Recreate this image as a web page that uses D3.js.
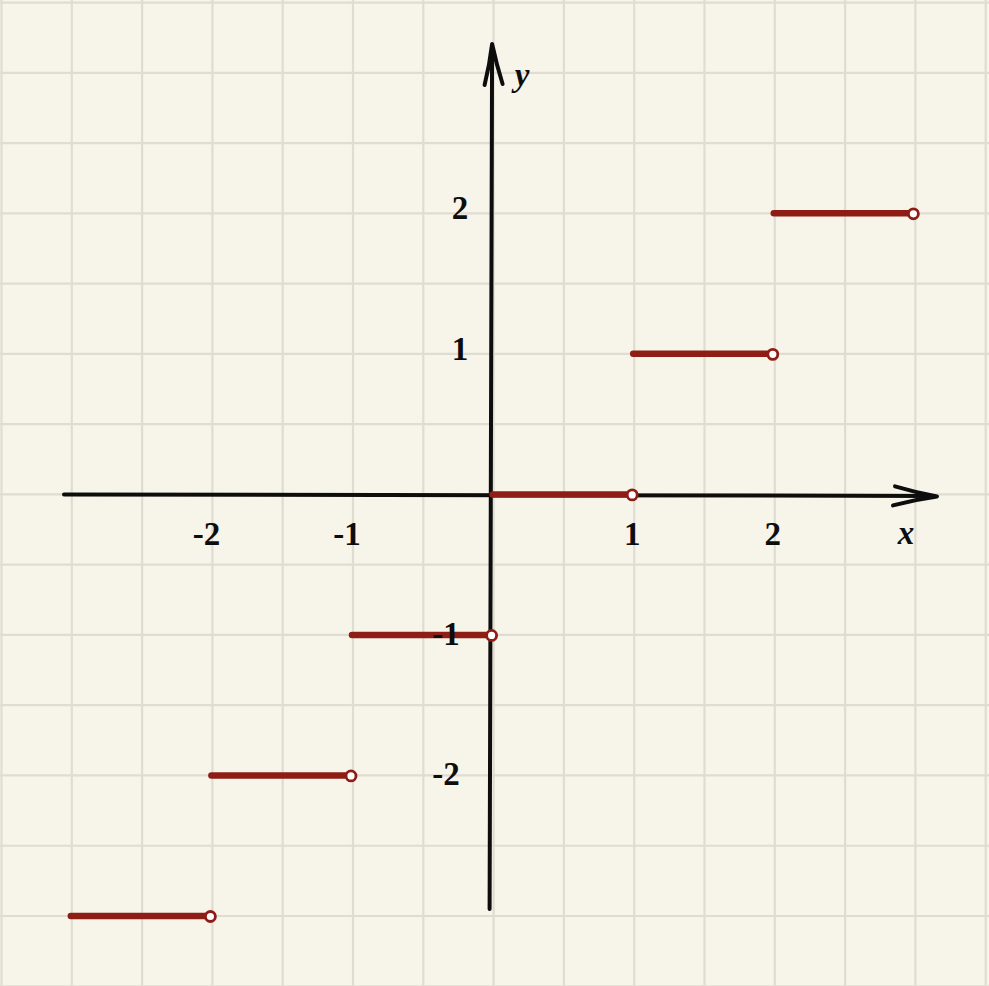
<!DOCTYPE html>
<html><head><meta charset="utf-8">
<script src="https://cdn.jsdelivr.net/npm/d3@7"></script>
<style>html,body{margin:0;padding:0;background:#f7f5ea;}svg{display:block;}</style>
</head><body>
<script>
// Floor function y = ⌊x⌋ on [-3, 3)
const stepStarts = [-3, -2, -1, 0, 1, 2];
const stepValues = [-3, -2, -1, 0, 1, 2];
const xTicks = [-2, -1, 1, 2];
const yTicks = [2, 1, -1, -2];
const xTickLabels = ["-2", "-1", "1", "2"];
const yTickLabels = ["2", "1", "-1", "-2"];

const W = 989, H = 986;
const x = d3.scaleLinear().domain([-3, 3]).range([71.8, 915.4]);
const y = d3.scaleLinear().domain([-3, 3]).range([916, 72.8]);

const svg = d3.select("body").append("svg").attr("width", W).attr("height", H);
svg.append("rect").attr("width", W).attr("height", H).attr("fill", "#f7f5ea");

const gridX = d3.range(-3.5, 3.51, 0.5);
const gridY = d3.range(-3.5, 3.51, 0.5);
const grid = svg.append("g").attr("stroke", "#dfddd2").attr("stroke-width", 2.2);
grid.selectAll("line.v").data(gridX).join("line").attr("class","v")
  .attr("x1", d => x(d)).attr("x2", d => x(d)).attr("y1", 0).attr("y2", H);
grid.selectAll("line.h").data(gridY).join("line").attr("class","h")
  .attr("y1", d => y(d)).attr("y2", d => y(d)).attr("x1", 0).attr("x2", W);

// axes
const ax = svg.append("g").attr("stroke", "#0d0d0d").attr("fill", "none")
  .attr("stroke-linecap", "round").attr("stroke-linejoin", "round");
ax.append("line").attr("x1", 64).attr("y1", y(0)).attr("x2", 934).attr("y2", y(0) + 1.5).attr("stroke-width", 4);
ax.append("line").attr("x1", x(0) - 4).attr("y1", 909).attr("x2", x(0) - 1.5).attr("y2", 47).attr("stroke-width", 4);
// arrow heads
const x0 = x(0), y0 = y(0);
ax.append("path").attr("stroke-width", 4)
  .attr("d", `M${895},${y0-8} Q${915},${y0-2} ${937},${y0+2} Q${915},${y0+5} ${893},${y0+11}`);
ax.append("path").attr("stroke-width", 4)
  .attr("d", `M${x0-9},${85} Q${x0-4},${65} ${x0-1.5},${44} Q${x0+3},${65} ${x0+9},${84}`);

// steps
const segs = stepStarts.map((s, i) => ({a: s, b: s + 1, v: stepValues[i]}));
svg.append("g").selectAll("line").data(segs).join("line")
  .attr("x1", d => x(d.a) - 1).attr("x2", d => x(d.b))
  .attr("y1", d => y(d.v)).attr("y2", d => y(d.v))
  .attr("stroke", "#8e1d16").attr("stroke-width", 6.5).attr("stroke-linecap", "round");

// tick labels
const lab = svg.append("g").attr("font-family", "'Liberation Serif', 'Times New Roman', serif")
  .attr("font-weight", "bold").attr("font-size", 33).attr("fill", "#0d0d0d");
lab.selectAll("text.xt").data(xTicks).join("text").attr("class","xt")
  .attr("x", (d,i) => x(d) + (d < 0 ? -6 : -2)).attr("y", 545).attr("text-anchor", "middle")
  .text((d,i) => xTickLabels[i]);
lab.selectAll("text.yt").data(yTicks).join("text").attr("class","yt")
  .attr("x", d => d < 0 ? 446 : 460).attr("y", d => y(d) + 6 + (d < 0 ? 4 : 0)).attr("text-anchor", "middle")
  .text((d,i) => yTickLabels[i]);
lab.append("text").attr("x", 906).attr("y", 544).attr("text-anchor", "middle")
  .attr("font-style", "italic").text("x");
lab.append("text").attr("x", 522).attr("y", 86).attr("text-anchor", "middle")
  .attr("font-style", "italic").text("y");

// open endpoints
svg.append("g").selectAll("circle").data(segs).join("circle")
  .attr("cx", d => x(d.b) - 2).attr("cy", d => y(d.v) + 0.5).attr("r", 5)
  .attr("fill", "#fff").attr("stroke", "#8e1d16").attr("stroke-width", 2.8);
</script>
</body></html>
